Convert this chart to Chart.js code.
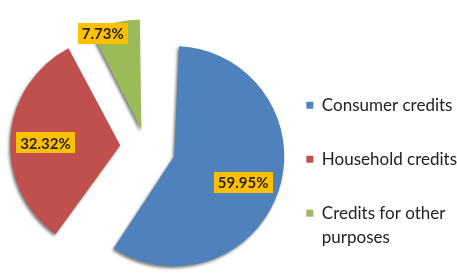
<!DOCTYPE html>
<html>
<head>
<meta charset="utf-8">
<script src="https://cdn.jsdelivr.net/npm/chart.js@4.4.1/dist/chart.umd.min.js"></script>
<style>
html,body{margin:0;padding:0;background:#fff;overflow:hidden}
#wrap{position:relative;width:457px;height:277px}
</style>
</head>
<body>
<div id="wrap"><canvas id="c" width="457" height="277"></canvas></div>
<script>
const categories = ['Consumer credits', 'Household credits', ['Credits for other', 'purposes']];
const shares = [59.95, 32.32, 7.73];
const valueLabels = ['59.95%', '32.32%', '7.73%'];
const sliceColors = ['#4F81BD', '#C0504D', '#9BBB59'];

// keep every exploded slice at the same radius (Chart.js grows the radius of offset arcs)
const radiusFix = {
  id: 'radiusFix',
  afterDatasetUpdate(chart, args) {
    args.meta.data.forEach(arc => {
      const off = (arc.options.offset || 0) / 4;
      const fix = 1 - Math.sin(Math.min(Math.PI, arc.circumference || 0));
      arc._baseR = arc.outerRadius;
      arc.outerRadius = arc._baseR - off * fix;
    });
  }
};

const shadowPlugin = {
  id: 'sliceShadow',
  beforeDatasetsDraw(chart) {
    const ctx = chart.ctx;
    ctx.save();
    ctx.shadowColor = 'rgba(0,0,0,0.5)';
    ctx.shadowBlur = 3;
    ctx.shadowOffsetX = -1.5;
    ctx.shadowOffsetY = 2;
  },
  afterDatasetsDraw(chart) {
    chart.ctx.restore();
  }
};

const labelPlugin = {
  id: 'sliceLabels',
  afterDatasetsDraw(chart, args, opts) {
    const ctx = chart.ctx;
    const meta = chart.getDatasetMeta(0);
    meta.data.forEach((arc, i) => {
      const off = (arc.options.offset || 0) / 4;
      const half = (arc.startAngle + arc.endAngle) / 2;
      const vx = arc.x + Math.cos(half) * off;
      const vy = arc.y + Math.sin(half) * off;
      const mid = half + (opts.angleShift[i] || 0);
      const d = (arc._baseR || arc.outerRadius) * opts.dist[i];
      const x = vx + Math.cos(mid) * d;
      const y = vy + Math.sin(mid) * d;
      const txt = valueLabels[i];
      ctx.save();
      ctx.shadowColor = 'transparent';
      ctx.font = 'bold 15px Lato, "DejaVu Sans", sans-serif';
      const w = ctx.measureText(txt).width + 8;
      const h = 21;
      ctx.fillStyle = '#FFC000';
      ctx.fillRect(Math.round(x - w / 2), Math.round(y - h / 2), Math.round(w), h);
      ctx.fillStyle = '#2a2418';
      ctx.textAlign = 'center';
      ctx.textBaseline = 'middle';
      ctx.fillText(txt, x, y + 1);
      ctx.restore();
    });
  }
};

new Chart(document.getElementById('c'), {
  type: 'pie',
  data: {
    labels: categories,
    datasets: [{
      data: shares,
      backgroundColor: sliceColors,
      borderWidth: 0,
      offset: [120, 102, 72]
    }]
  },
  options: {
    responsive: false,
    animation: false,
    radius: 110,
    layout: { padding: { top: 17, bottom: -13, left: 22, right: -10 } },
    plugins: {
      tooltip: { enabled: false },
      legend: {
        position: 'right',
        align: 'end',
        labels: {
          boxWidth: 7,
          boxHeight: 7,
          padding: 37,
          color: '#222222',
          font: { family: 'Lato, "DejaVu Sans", sans-serif', size: 17, lineHeight: 1.42 }
        }
      },
      sliceLabels: { dist: [0.67, 0.68, 0.94], angleShift: [0.05, -0.04, -0.14] }
    }
  },
  plugins: [radiusFix, shadowPlugin, labelPlugin]
});
</script>
</body>
</html>
